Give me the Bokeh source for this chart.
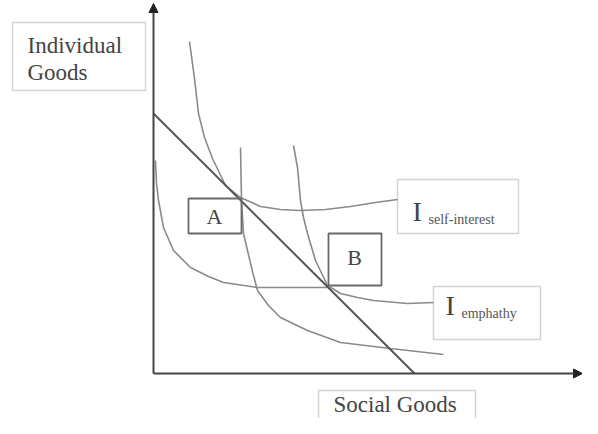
from bokeh.plotting import figure
from bokeh.models import Range1d, Arrow, NormalHead
from bokeh.core.properties import value
from bokeh.embed import file_html
from bokeh.resources import INLINE

# ---- data (diagram units: origin at axis corner) ----
budget_x = [0, 261]
budget_y = [260, 0]

self_x = [36, 41, 45, 51, 59, 72, 87, 107, 127, 147, 172, 197, 222, 244]
self_y = [332, 295, 260, 236, 215, 188, 176, 167, 164, 163, 164, 167, 171, 174]

emp_x = [140, 144, 147, 150, 154, 162, 174, 187, 204, 220, 254, 280]
emp_y = [228, 206, 173, 156, 140, 113, 88, 80, 76, 73, 70, 71]

low_x = [2, 3, 5, 10, 20, 37, 55, 70, 104, 140, 174]
low_y = [213, 190, 173, 146, 123, 106, 97, 91, 86, 86, 86]

inner_x = [87, 88, 90, 94, 99, 104, 115, 127, 154, 187, 237, 290]
inner_y = [226, 173, 140, 123, 102, 83, 68, 56, 43, 31, 25, 19]

box_left = [35, 175]
box_right = [88, 228]
box_bottom = [140, 88]
box_top = [175, 140]
box_text = ["A", "B"]
box_tx = [61, 201]
box_ty = [157, 116]

lbl_left = [-141, 244, 280, 165]
lbl_right = [-8, 365, 387, 322]
lbl_bottom = [283, 140, 34, -70]
lbl_top = [351, 194, 87, -17]

axis_lab = ["Individual", "Goods", "Social Goods"]
axis_lab_x = [-126, -126, 180]
axis_lab_y = [328, 301, -31]

big_i = ["I", "I"]
big_i_x = [259, 292]
big_i_y = [162, 68]
sub_text = ["self-interest", "emphathy"]
sub_x = [275, 308]
sub_y = [154, 60]

x_axis_end = 429
y_axis_end = 370

p = figure(width=582, height=418, output_backend="svg", toolbar_location=None,
           x_range=Range1d(-153, 429), y_range=Range1d(-45, 373), min_border=0)
p.axis.visible = False
p.grid.visible = False
p.outline_line_color = None

font = value("Liberation Serif")

# label boxes
p.quad(left=lbl_left, right=lbl_right, bottom=lbl_bottom, top=lbl_top,
       fill_color=None, line_color="#d4d4d4", line_width=1.5)

# curves
curve_col = "#8a8a8a"
p.line(self_x, self_y, line_color=curve_col, line_width=1.6)
p.line(emp_x, emp_y, line_color=curve_col, line_width=1.6)
p.line(low_x, low_y, line_color=curve_col, line_width=1.6)
p.line(inner_x, inner_y, line_color=curve_col, line_width=1.6)

# budget line
p.line(budget_x, budget_y, line_color="#555555", line_width=2)

# A / B boxes
p.quad(left=box_left, right=box_right, bottom=box_bottom, top=box_top,
       fill_color=None, line_color="#6a6a6a", line_width=1.8)
p.text(box_tx, box_ty, text=box_text, text_font=font, text_font_size="22px",
       text_color="#444444", text_align="center", text_baseline="middle")

# axes with arrowheads
p.add_layout(Arrow(end=NormalHead(size=9, fill_color="#222222", line_color="#222222"),
                   x_start=0, y_start=0, x_end=x_axis_end, y_end=0,
                   line_color="#444444", line_width=2))
p.add_layout(Arrow(end=NormalHead(size=9, fill_color="#222222", line_color="#222222"),
                   x_start=0, y_start=0, x_end=0, y_end=y_axis_end,
                   line_color="#444444", line_width=2))

# texts
p.text(axis_lab_x, axis_lab_y, text=axis_lab, text_font=font, text_font_size="23px",
       text_color="#444444", text_align="left", text_baseline="middle")
p.text(big_i_x, big_i_y, text=big_i, text_font=font, text_font_size="28px",
       text_color="#444444", text_align="left", text_baseline="middle")
p.text(sub_x, sub_y, text=sub_text, text_font=font, text_font_size="14px",
       text_color="#555555", text_align="left", text_baseline="middle")

open("out.html", "w").write(file_html(p, INLINE))
